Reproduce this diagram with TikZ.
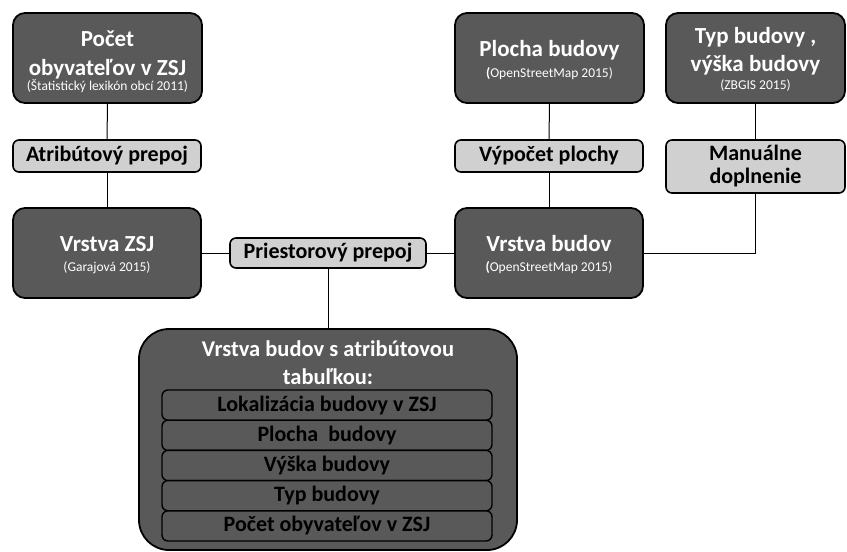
\documentclass[tikz,border=0pt]{standalone}
\usepackage{fontspec}
\setmainfont{Carlito}
\definecolor{darkbox}{HTML}{595959}
\definecolor{lightbox}{HTML}{D0D0D0}
\begin{document}
\begin{tikzpicture}[x=1pt,y=-1pt,
  darkstyle/.style={draw=black, line width=1.8pt, fill=darkbox, rounded corners=12pt,
    inner sep=0pt, outer sep=0pt},
  ttl/.style={text=white, font=\bfseries\fontsize{23}{27}\selectfont, inner sep=0pt, anchor=base},
  subt/.style={text=white, font=\fontsize{13.5}{15}\selectfont, inner sep=0pt, anchor=base},
  lightstyle/.style={draw=black, line width=1.6pt, fill=lightbox, rounded corners=6pt,
    text=black, font=\bfseries\fontsize{22}{25}\selectfont, align=center,
    inner sep=0pt, outer sep=0pt},
  rowstyle/.style={draw=black, line width=1.4pt, fill=darkbox, rounded corners=6pt,
    text=black, font=\bfseries\fontsize{22}{24}\selectfont, align=center,
    minimum width=330pt, minimum height=30.2pt, inner sep=0pt, outer sep=0pt},
  conn/.style={draw=black, line width=1pt}
]
\useasboundingbox (0,0) rectangle (847,552);
% top row
\node[darkstyle, minimum width=189pt, minimum height=90pt] (pocet) at (107.5,58) {};
\node[ttl] (pocet-t1) at (107.5,46.7) {Počet};
\node[ttl] (pocet-t2) at (107.5,75) {obyvateľov v ZSJ};
\node[subt] (pocet-s) at (107.5,90) {(Štatistický lexikón obcí 2011)};
\node[darkstyle, minimum width=189pt, minimum height=90pt] (plocha) at (549.5,58) {};
\node[ttl] (plocha-t) at (549.5,56.7) {Plocha budovy};
\node[subt] (plocha-s) at (549.5,77.3) {\textbf{(}OpenStreetMap 2015)};
\node[darkstyle, minimum width=179pt, minimum height=90pt] (typ) at (755.5,58) {};
\node[ttl] (typ-t1) at (755.5,43.3) {Typ budovy ,};
\node[ttl] (typ-t2) at (755.5,71.7) {výška budovy};
\node[subt] (typ-s) at (755.5,89.3) {(ZBGIS 2015)};
% process row
\node[lightstyle, minimum width=188pt, minimum height=32pt] (atrib) at (107,156) {Atribútový prepoj};
\node[lightstyle, minimum width=188pt, minimum height=32pt] (vypocet) at (549,156) {Výpočet plochy};
\node[lightstyle, minimum width=179pt, minimum height=53pt] (man) at (755.5,166.5) {Manuálne\\[-2pt]doplnenie};
% layers
\node[darkstyle, minimum width=188pt, minimum height=90pt] (zsj) at (107,253) {};
\node[ttl] (zsj-t) at (107,251.7) {Vrstva ZSJ};
\node[subt] (zsj-s) at (107,271.7) {(Garajová 2015)};
\node[darkstyle, minimum width=188pt, minimum height=90pt] (budov) at (549,253) {};
\node[ttl] (budov-t) at (549,251.7) {Vrstva budov};
\node[subt] (budov-s) at (549,271.7) {\textbf{(}OpenStreetMap 2015)};
\node[lightstyle, minimum width=196pt, minimum height=30pt] (priest) at (328,253) {Priestorový prepoj};
% big box
\node[draw=black, line width=1.8pt, fill=darkbox, rounded corners=30pt,
  minimum width=378pt, minimum height=221pt, inner sep=0pt, outer sep=0pt] (big) at (328,439.5) {};
\node[text=white, font=\bfseries\fontsize{22.5}{28}\selectfont, align=center, inner sep=0pt] (bigtitle) at (328,363)
  {Vrstva budov s atribútovou\\tabuľkou:};
\node[rowstyle] (r1) at (327,405.1) {Lokalizácia budovy v ZSJ};
\node[rowstyle] (r2) at (327,435.3) {Plocha\ \ budovy};
\node[rowstyle] (r3) at (327,465.5) {Výška budovy};
\node[rowstyle] (r4) at (327,495.7) {Typ budovy};
\node[rowstyle] (r5) at (327,525.9) {Počet obyvateľov v ZSJ};
% connectors
\draw[conn] (pocet.south) -- (atrib.north);
\draw[conn] (atrib.south) -- (zsj.north);
\draw[conn] (plocha.south) -- (vypocet.north);
\draw[conn] (vypocet.south) -- (budov.north);
\draw[conn] (typ.south) -- (man.north);
\draw[conn] (budov.east) -| (man.south);
\draw[conn] (zsj.east) -- (priest.west);
\draw[conn] (priest.east) -- (budov.west);
\draw[conn] (priest.south) -- (big.north);
\end{tikzpicture}
\end{document}
